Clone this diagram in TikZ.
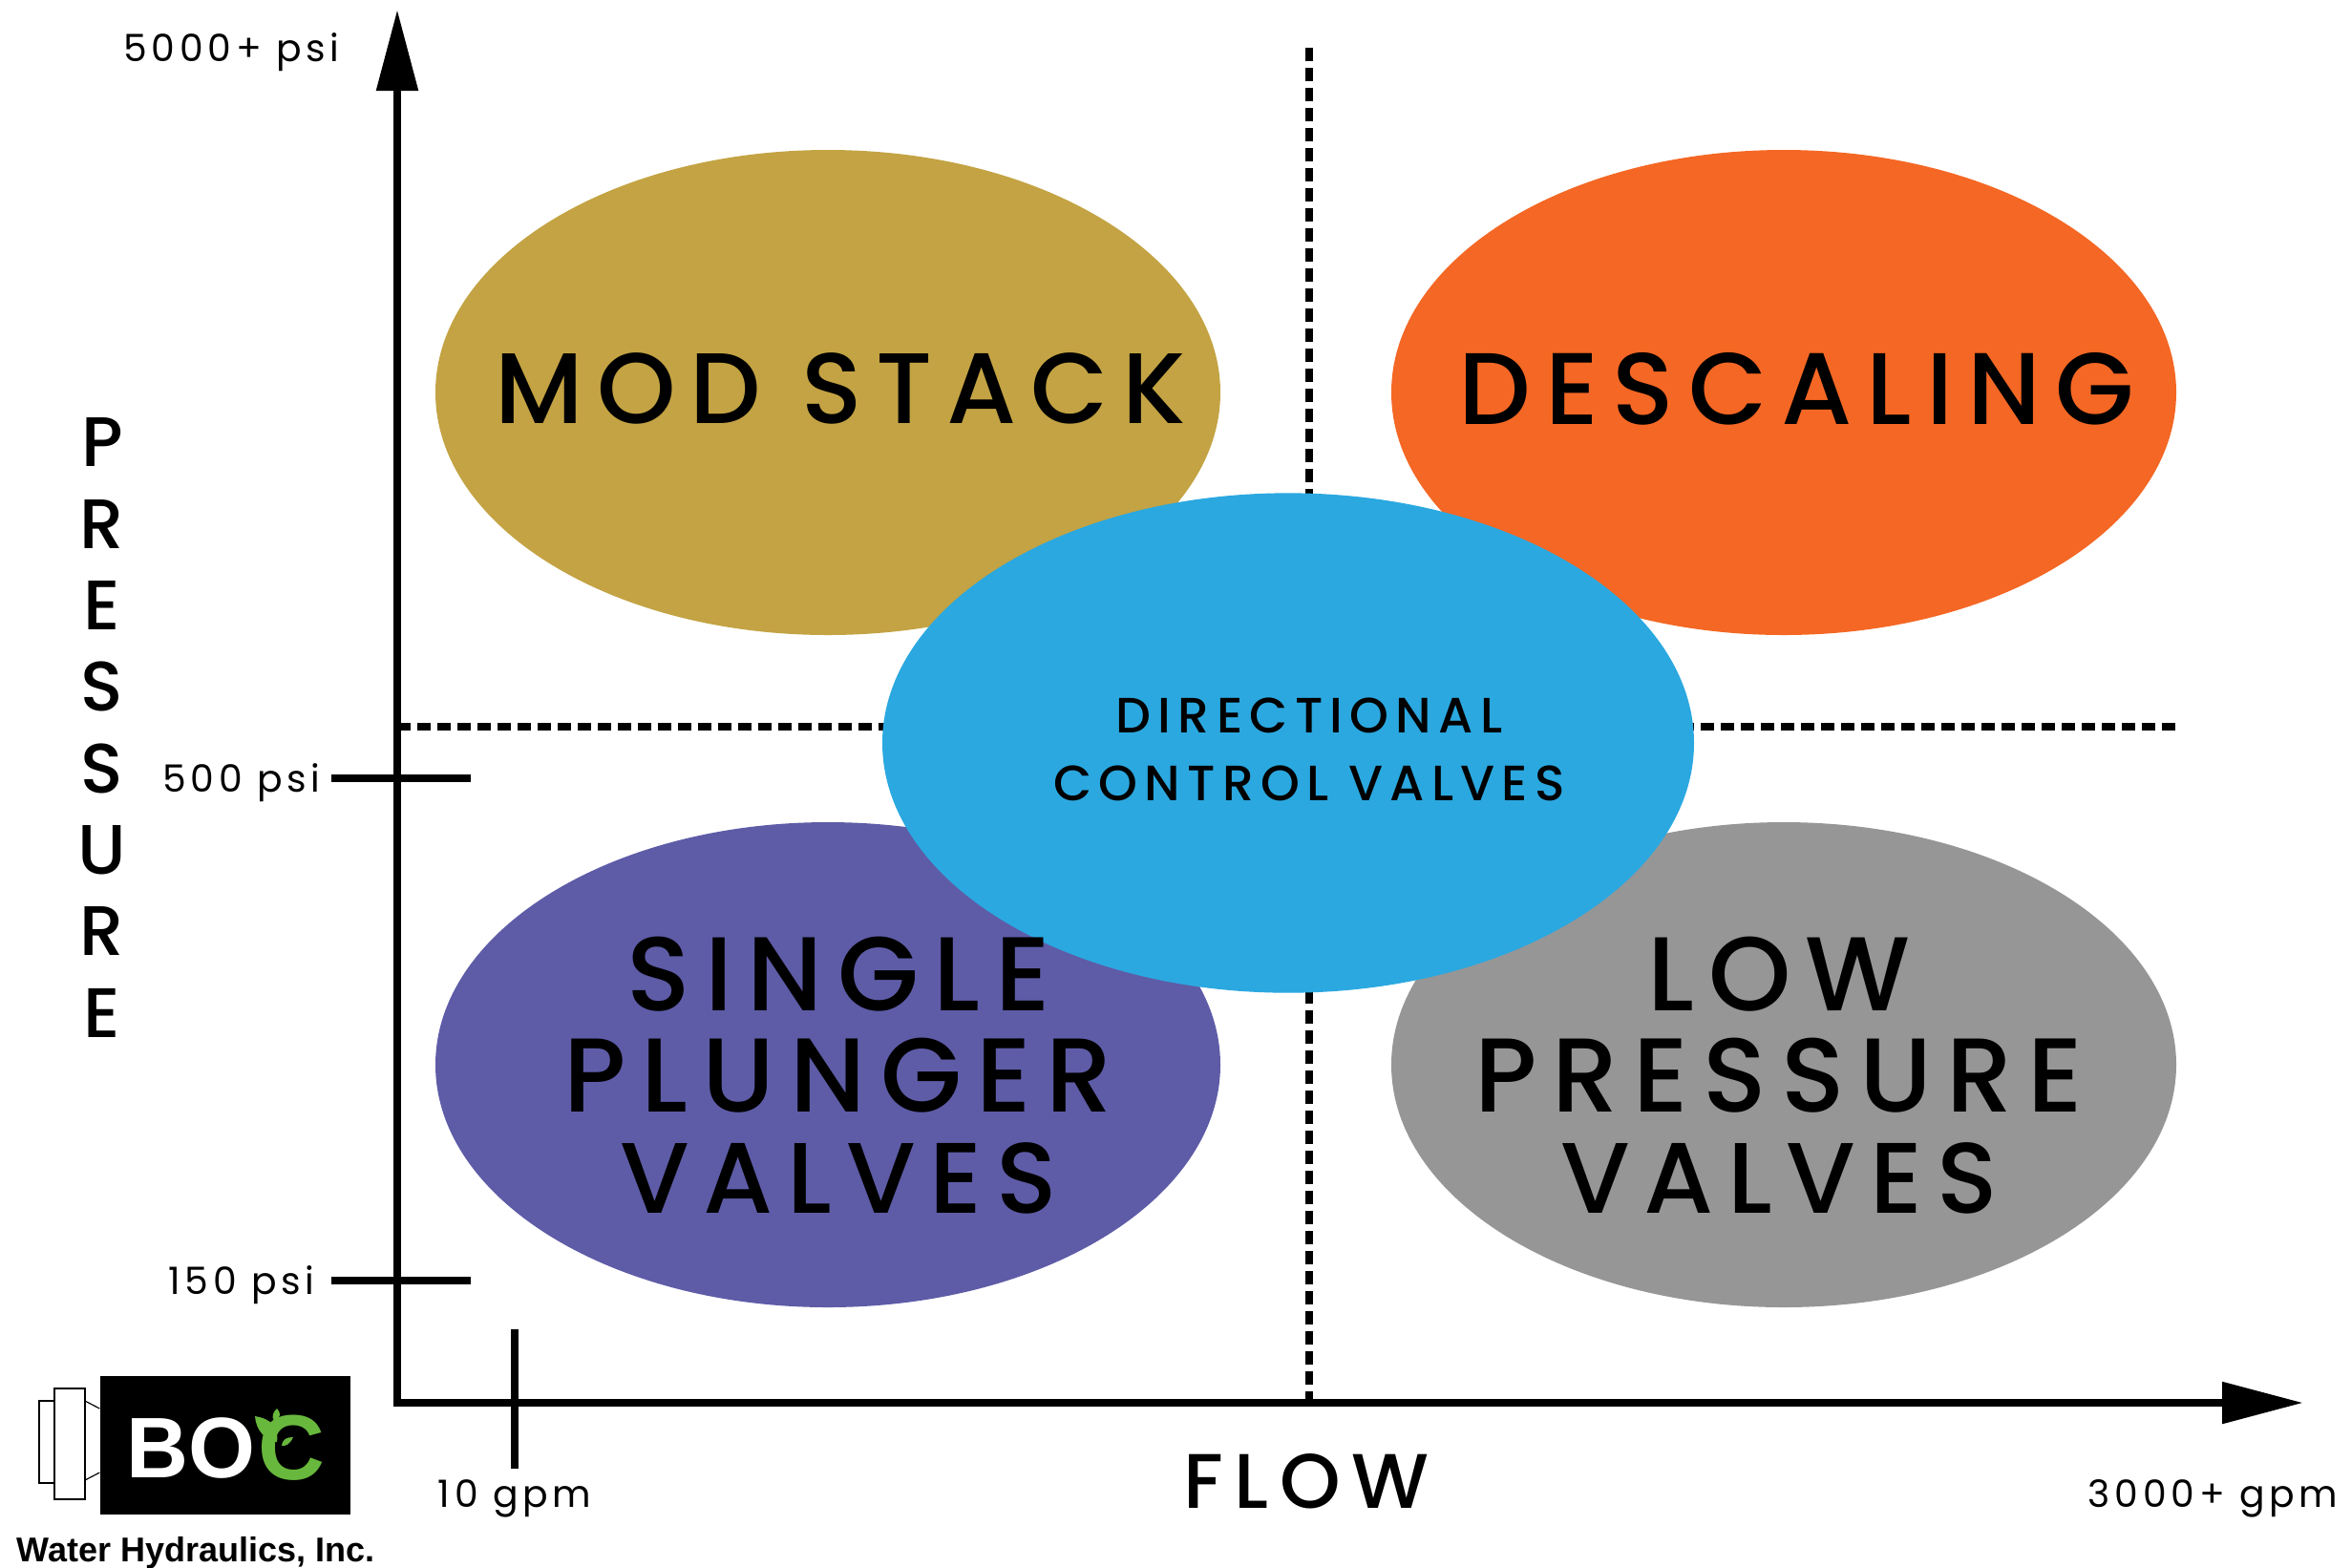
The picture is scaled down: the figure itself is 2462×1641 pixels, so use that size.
\documentclass[tikz,border=0pt]{standalone}
\usepackage{fontspec}
\usetikzlibrary{arrows.meta,shapes.geometric}
\setmainfont{Poppins}
\newfontfamily\wideface[LetterSpace=14]{Poppins Medium}
\newfontfamily\tickface[LetterSpace=12]{Poppins}
\newfontfamily\logoface{Liberation Sans}
\definecolor{modgold}{RGB}{195,163,67}
\definecolor{scaleorange}{RGB}{244,103,36}
\definecolor{plungerblue}{RGB}{94,92,167}
\definecolor{lowgray}{RGB}{150,150,150}
\definecolor{centercyan}{RGB}{43,168,224}
\definecolor{leafgreen}{RGB}{104,184,62}
\newcommand{\widerline}[1]{{\fontsize{33}{31.8}\selectfont #1}}
\tikzset{
  blob/.style={ellipse,inner sep=0pt,minimum width=246.6pt,minimum height=152.4pt},
  biglabel/.style={font=\fontsize{31.5}{31.8}\wideface,align=center,inner sep=0pt},
  midlabel/.style={font=\fontsize{15.6}{21.5}\wideface,align=center,inner sep=0pt},
  ticklabel/.style={font=\fontsize{11.8}{13}\tickface,inner sep=0pt},
  axisline/.style={line width=2.6pt,-{Triangle[length=25.5pt,width=12.6pt]}},
  tickline/.style={line width=2.4pt},
  dotline/.style={line width=2.5pt,dash pattern=on 4.2pt off 2.1pt}
}
\begin{document}
\begin{tikzpicture}[x=0.3pt,y=0.3pt,yscale=-1,xscale=1]
\useasboundingbox (0,0) rectangle (2462,1641);
% guide lines go first, the ellipses sit on them
\coordinate (dotTop) at (1371,50);
\coordinate (dotBottom) at (1371,1470);
\coordinate (dotLeft) at (416,761);
\coordinate (dotRight) at (2280,761);
\draw [dotline] (dotTop) -- (dotBottom);
\draw [dotline] (dotLeft) -- (dotRight);
% axes
\coordinate (origin) at (416,1469);
\coordinate (yTip) at (416,10);
\coordinate (xTip) at (2412,1469);
\draw [axisline] ([yshift=-1.3pt]origin) -- (yTip);
\draw [axisline] ([xshift=-1.3pt]origin) -- (xTip);
% ticks
\coordinate (tickA) at (347,815);
\coordinate (tickB) at (493,815);
\coordinate (tickC) at (347,1341);
\coordinate (tickD) at (493,1341);
\coordinate (tickE) at (539,1392);
\coordinate (tickF) at (539,1538);
\draw [tickline] (tickA) -- (tickB);
\draw [tickline] (tickC) -- (tickD);
\draw [tickline] (tickE) -- (tickF);
% ellipses
\node [blob,fill=modgold] (modstack) at (867,411) {};
\node [blob,fill=scaleorange] (descaling) at (1868,411) {};
\node [blob,fill=plungerblue] (plunger) at (867,1115) {};
\node [blob,fill=lowgray] (lowpress) at (1868,1115) {};
\node [blob,fill=centercyan,minimum width=255pt,minimum height=157pt] (directional) at (1349,778) {};
\node [biglabel] (modstackText) at (880,407) {MOD STACK};
\node [biglabel,font=\fontsize{32}{31.8}\wideface] (descalingText) at (1881,407) {DESCALING};
\node [biglabel] (plungerText) at (878,1126) {\widerline{SINGLE}\\\widerline{PLUNGER}\\VALVES};
\node [biglabel] (lowpressText) at (1863,1126) {\widerline{LOW}\\\widerline{PRESSURE}\\VALVES};
\node [midlabel] (directionalText) at (1371,785) {DIRECTIONAL\\CONTROL VALVES};
% axis texts
\node [biglabel,font=\fontsize{22}{25.6}\wideface] (pressureText) at (107,762) {P\\R\\E\\S\\S\\U\\R\\E};
\node [biglabel,font=\fontsize{24.3}{26}\wideface] (flowText) at (1368,1551) {FLOW};
\node [ticklabel,anchor=east] (psiTop) at (356,55) {5000+ psi};
\node [ticklabel,anchor=east] (psiMid) at (336,820) {500 psi};
\node [ticklabel,anchor=east] (psiLow) at (330,1346) {150 psi};
\node [ticklabel] (gpmLow) at (539,1569) {10 gpm};
\node [ticklabel,anchor=east] (gpmTop) at (2449,1569) {3000+ gpm};
% logo
\draw [line width=0.35pt,fill=white] (41,1467) rectangle (57,1553);
\draw [line width=0.35pt,fill=white] (57,1454) rectangle (89,1570);
\coordinate (valveA) at (89,1467);
\coordinate (valveB) at (89,1550);
\node [fill=black,inner sep=0pt,minimum width=78.6pt,minimum height=43.5pt] (logoBox) at (236,1513.5) {};
\draw [line width=0.35pt] (valveA) -- (logoBox.west |- 0,1475);
\draw [line width=0.35pt] (valveB) -- (logoBox.west |- 0,1542);
\node [text=white,inner sep=0pt,anchor=east,font=\fontsize{27}{27}\logoface\bfseries] (logoBO) at (268,1516) {BO};
\node [text=leafgreen,inner sep=0pt,anchor=west,font=\fontsize{29}{29}\logoface\bfseries] (logoC) at (270,1516) {C};
\fill [leafgreen] (267,1483) .. controls (285,1486) and (292,1495) .. (290,1510) .. controls (278,1508) and (268,1498) .. (267,1483);
\fill [leafgreen] (290,1475) .. controls (295,1481) and (294,1484) .. (287,1488) .. controls (284,1483) and (286,1479) .. (290,1475);
\fill [leafgreen] (307,1505) .. controls (303,1513) and (300,1514) .. (295,1514) .. controls (296,1507) and (300,1505) .. (307,1505);
\node [inner sep=0pt,anchor=west,font=\fontsize{10.8}{13}\logoface\bfseries] (logoName) at (17,1626) {Water Hydraulics, Inc.};
\end{tikzpicture}
\end{document}
